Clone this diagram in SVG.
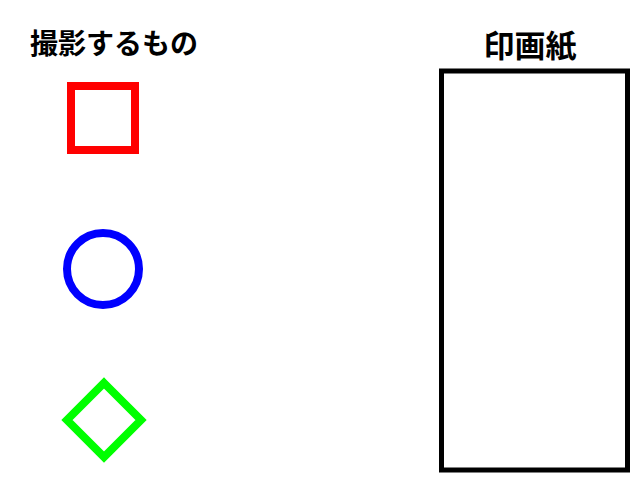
<svg xmlns="http://www.w3.org/2000/svg" width="640" height="480" viewBox="0 0 640 480">
<style>
.t{font-family:"Noto Sans CJK JP","Noto Sans CJK SC",sans-serif;font-weight:bold;fill:#000}
.s{fill:none;stroke-width:8}
</style>
<rect width="640" height="480" fill="#fff"/>
<text class="t" x="30" y="54" font-size="28">撮影するもの</text>
<text class="t" x="530" y="57" font-size="31" text-anchor="middle">印画紙</text>
<g id="square"><rect class="s" x="71" y="86" width="64" height="64" stroke="#ff0000"/></g>
<g id="circle"><circle class="s" cx="103" cy="269" r="36" stroke="#0000ff"/></g>
<g id="diamond"><polygon class="s" points="104,383 141,420 104,457 67,420" stroke="#00ff00" stroke-width="8.5"/></g>
<g id="paper"><rect x="441.5" y="71" width="186" height="399" fill="none" stroke="#000" stroke-width="5"/></g>
<g id="connectors"></g>
</svg>
